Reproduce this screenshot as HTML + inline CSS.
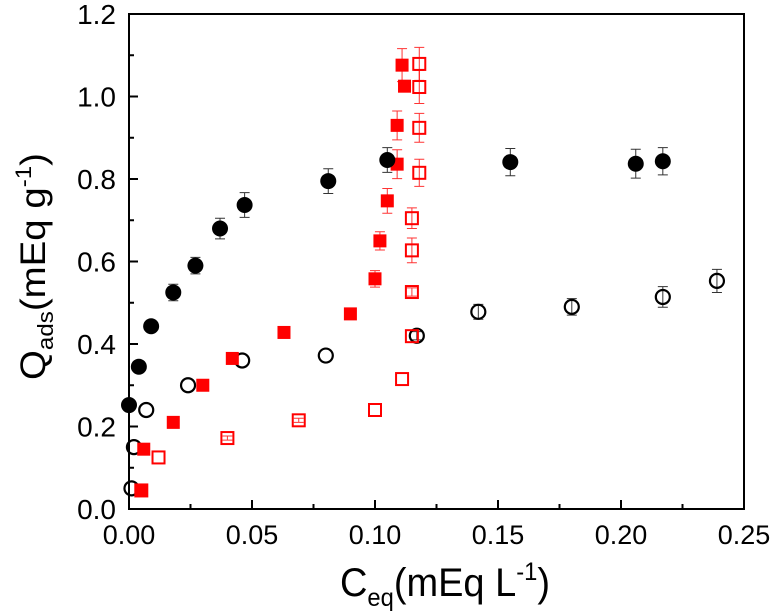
<!DOCTYPE html>
<html><head><meta charset="utf-8">
<style>
html,body{margin:0;padding:0;background:#fff;}
svg{display:block;font-family:"Liberation Sans",Arial,sans-serif;}
</style></head>
<body>
<svg id="chart" width="774" height="614" viewBox="0 0 774 614" xmlns="http://www.w3.org/2000/svg">
<g id="marks"></g>
<g id="axes"></g>
</svg>
<script>
const xTicks = [0, 0.05, 0.10, 0.15, 0.20, 0.25];
const xTickLabels = ["0.00", "0.05", "0.10", "0.15", "0.20", "0.25"];
const yTicks = [0, 0.2, 0.4, 0.6, 0.8, 1.0, 1.2];
const yTickLabels = ["0.0", "0.2", "0.4", "0.6", "0.8", "1.0", "1.2"];

const blackFilledX = [0.0, 0.004, 0.009, 0.018, 0.027, 0.037, 0.047, 0.081, 0.105, 0.155, 0.206, 0.217];
const blackFilledY = [0.252, 0.345, 0.443, 0.525, 0.59, 0.68, 0.737, 0.795, 0.846, 0.841, 0.837, 0.843];
const blackFilledErr = [0.0, 0.0, 0.0, 0.02, 0.02, 0.025, 0.03, 0.03, 0.03, 0.033, 0.035, 0.033];

const blackOpenX = [0.001, 0.002, 0.007, 0.024, 0.046, 0.080, 0.117, 0.142, 0.180, 0.217, 0.239];
const blackOpenY = [0.05, 0.15, 0.24, 0.30, 0.36, 0.372, 0.42, 0.478, 0.49, 0.514, 0.553];
const blackOpenErr = [0.0, 0.0, 0.0, 0.0, 0.0, 0.0, 0.01, 0.018, 0.02, 0.025, 0.028];

const redFilledX = [0.005, 0.006, 0.018, 0.030, 0.042, 0.063, 0.090, 0.100, 0.102, 0.105, 0.109, 0.109, 0.112, 0.111];
const redFilledY = [0.045, 0.145, 0.21, 0.30, 0.365, 0.428, 0.473, 0.558, 0.65, 0.747, 0.836, 0.93, 1.025, 1.076];
const redFilledErr = [0.0, 0.0, 0.0, 0.0, 0.0, 0.0, 0.01, 0.02, 0.022, 0.03, 0.035, 0.035, 0.0, 0.04];

const redOpenX = [0.005, 0.012, 0.040, 0.069, 0.100, 0.111, 0.115, 0.115, 0.115, 0.115, 0.118, 0.118, 0.118, 0.118];
const redOpenY = [0.045, 0.125, 0.172, 0.215, 0.24, 0.315, 0.419, 0.526, 0.627, 0.705, 0.815, 0.924, 1.023, 1.079];
const redOpenErr = [0.0, 0.0, 0.005, 0.005, 0.0, 0.0, 0.0, 0.01, 0.03, 0.025, 0.033, 0.035, 0.04, 0.04];

const X0 = 129, X1 = 744, Y0 = 509, Y1 = 14;
function sx(v){ return X0 + (v - 0) / 0.25 * (X1 - X0); }
function sy(v){ return Y0 - (v - 0) / 1.2 * (Y0 - Y1); }

const NS = "http://www.w3.org/2000/svg";
function mk(tag, attrs, parent){
  const e = document.createElementNS(NS, tag);
  for (const k in attrs) e.setAttribute(k, attrs[k]);
  parent.appendChild(e);
  return e;
}
const marks = document.getElementById('marks');
const axes = document.getElementById('axes');

function errBar(g, x, y, e, color){
  if (e <= 0) return;
  const px = sx(x), t = sy(y + e), b = sy(y - e);
  const l = mk('path', {d:`M${px},${t}V${b}M${px-5},${t}H${px+5}M${px-5},${b}H${px+5}`, stroke:color, 'stroke-width':1, fill:'none', opacity:0.8}, g);
  
  
}

function series(xs, ys, es, kind, name){
  const g = mk('g', {}, marks);
  
  
  for (let i = 0; i < xs.length; i++){
    const color = kind.startsWith('red') ? '#f00' : '#000';
    errBar(g, xs[i], ys[i], es[i], color);
    const px = sx(xs[i]), py = sy(ys[i]);
    let m;
    if (kind === 'blackFilled') m = mk('circle', {cx:px, cy:py, r:8, fill:'#000'}, g);
    else if (kind === 'blackOpen') m = mk('circle', {cx:px, cy:py, r:7, fill:'none', stroke:'#000', 'stroke-width':2.2}, g);
    else if (kind === 'redFilled') m = mk('rect', {x:px-6.5, y:py-6.5, width:13, height:13, fill:'#f00'}, g);
    else m = mk('rect', {x:px-6, y:py-6, width:12, height:12, fill:'none', stroke:'#f00', 'stroke-width':2}, g);
    
    
  }
}
series(blackOpenX, blackOpenY, blackOpenErr, 'blackOpen', 'black-open-series');
series(redOpenX, redOpenY, redOpenErr, 'redOpen', 'red-open-series');
series(redFilledX, redFilledY, redFilledErr, 'redFilled', 'red-filled-series');
series(blackFilledX, blackFilledY, blackFilledErr, 'blackFilled', 'black-filled-series');

const frame = mk('rect', {x:X0, y:Y1, width:X1-X0, height:Y0-Y1, fill:'none', stroke:'#000', 'stroke-width':2}, axes);



for (let i = 0; i < xTicks.length; i++){
  const px = sx(xTicks[i]);
  const t = mk('line', {x1:px, x2:px, y1:Y0, y2:Y0-9, stroke:'#000', 'stroke-width':2}, axes);
  
  
  if (i < xTicks.length - 1){
    const mx = sx((xTicks[i] + xTicks[i+1]) / 2);
    const m = mk('line', {x1:mx, x2:mx, y1:Y0, y2:Y0-5, stroke:'#000', 'stroke-width':2}, axes);
    
    
  }
  const lb = mk('text', {x:px, y:Y0+35, 'text-anchor':'middle', 'font-size':27, fill:'#000'}, axes);
  lb.textContent = xTickLabels[i];
  
  
}
for (let i = 0; i < yTicks.length; i++){
  const py = sy(yTicks[i]);
  const t = mk('line', {x1:X0, x2:X0+9, y1:py, y2:py, stroke:'#000', 'stroke-width':2}, axes);
  
  
  if (i < yTicks.length - 1){
    const my = sy((yTicks[i] + yTicks[i+1]) / 2);
    const m = mk('line', {x1:X0, x2:X0+5, y1:my, y2:my, stroke:'#000', 'stroke-width':2}, axes);
    
    
  }
  const lb = mk('text', {x:X0-13, y:py+10, 'text-anchor':'end', 'font-size':28, fill:'#000'}, axes);
  lb.textContent = yTickLabels[i];
  
  
}
</script>
<svg style="position:absolute;left:0;top:0" width="774" height="614">
  <text x="340" y="596" textLength="210" lengthAdjust="spacingAndGlyphs" font-family="Liberation Sans, Arial, sans-serif" font-size="40" fill="#000">C<tspan font-size="25" dy="10">eq</tspan><tspan dy="-10">(mEq L</tspan><tspan font-size="25" dy="-16">-1</tspan><tspan dy="16">)</tspan></text>
  <text transform="translate(45,380) rotate(-90)" textLength="227" lengthAdjust="spacingAndGlyphs" font-family="Liberation Sans, Arial, sans-serif" font-size="35" fill="#000">Q<tspan font-size="22" dy="8">ads</tspan><tspan dy="-8">(mEq g</tspan><tspan font-size="22" dy="-14">-1</tspan><tspan dy="14">)</tspan></text>
</svg>
</body></html>
